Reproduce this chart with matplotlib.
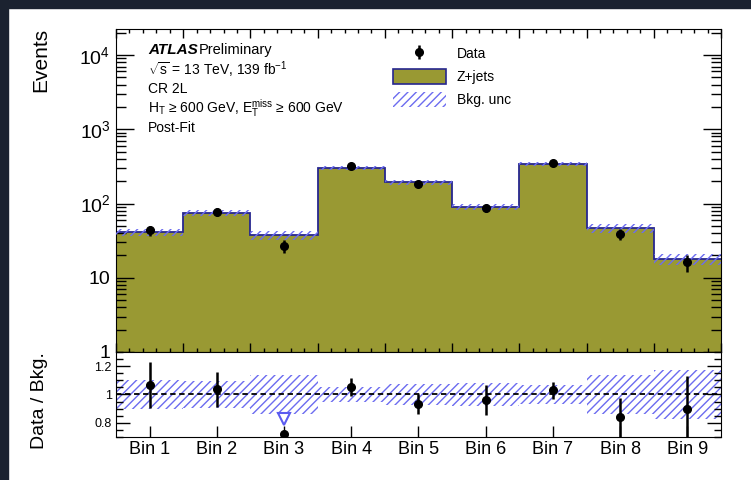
import matplotlib
matplotlib.use("Agg")
import numpy as np
import matplotlib.pyplot as plt
from matplotlib.patches import Patch, Rectangle
from matplotlib.ticker import FixedLocator, FixedFormatter, MultipleLocator, LogLocator, NullFormatter

plt.rcParams['font.family'] = ['Liberation Sans', 'DejaVu Sans']
plt.rcParams['mathtext.fontset'] = 'custom'
plt.rcParams['mathtext.rm'] = 'Liberation Sans'
plt.rcParams['mathtext.it'] = 'Liberation Sans:italic'
plt.rcParams['mathtext.bf'] = 'Liberation Sans:bold'
plt.rcParams['hatch.linewidth'] = 1.0

# ---- data ----
bins = ["Bin 1", "Bin 2", "Bin 3", "Bin 4", "Bin 5", "Bin 6", "Bin 7", "Bin 8", "Bin 9"]
zjets = [40.8, 74.8, 37.3, 303.0, 194.0, 90.0, 340.0, 46.9, 17.9]
data = [43.5, 77.5, 27.0, 319.0, 181.0, 86.5, 350.0, 39.3, 16.1]
data_err = [6.7, 9.2, 5.2, 19.0, 14.0, 9.6, 20.0, 6.6, 4.2]
bkg_rel_unc = [0.10, 0.095, 0.135, 0.053, 0.077, 0.08, 0.07, 0.135, 0.17]

OLIVE = '#999933'
NAVY = '#26268f'
HATCH = '#6c6cf0'
TRI = '#5b5bf0'

zj = np.array(zjets)
dt = np.array(data)
de = np.array(data_err)
unc = np.array(bkg_rel_unc)
edges = np.arange(len(bins) + 1)
centers = edges[:-1] + 0.5

fig = plt.figure(figsize=(7.51, 4.80), dpi=100)
ax = fig.add_axes([116/751, 1-352/480, 605/751, 323/480])
rax = fig.add_axes([116/751, 1-437/480, 605/751, 85/480])

# ---- main panel ----
ax.stairs(zj, edges, baseline=1e-2, fill=True, facecolor=OLIVE, edgecolor='none', zorder=1)
ax.stairs(zj, edges, baseline=None, color=NAVY, lw=1.3, zorder=2)
ax.stairs(zj*(1+unc), edges, baseline=zj*(1-unc), fill=True, facecolor='none',
          edgecolor=HATCH, hatch='////', lw=0, zorder=3)
eb = ax.errorbar(centers, dt, yerr=de, fmt='o', color='k', ms=5.5, elinewidth=1.8,
                 capsize=0, zorder=5)

ax.set_xlim(0, len(bins))
ax.set_yscale('log')
ax.set_ylim(1, 2.24e4)
ax.yaxis.set_major_locator(FixedLocator([1, 10, 100, 1000, 10000]))
ax.yaxis.set_major_formatter(FixedFormatter(['1', '10', '$10^2$', '$10^3$', '$10^4$']))
ax.yaxis.set_minor_locator(LogLocator(base=10, subs=np.arange(2, 10)))
ax.yaxis.set_minor_formatter(NullFormatter())
ax.tick_params(axis='y', which='major', direction='in', length=13, width=1, right=True, labelsize=14, pad=4)
ax.tick_params(axis='y', which='minor', direction='in', length=7, width=1, right=True)
ax.xaxis.set_major_locator(MultipleLocator(1))
ax.xaxis.set_minor_locator(MultipleLocator(0.2))
ax.tick_params(axis='x', which='major', direction='in', length=6.5, width=1, top=True, labelbottom=False)
ax.tick_params(axis='x', which='minor', direction='in', length=3, width=1, top=True)
sec = ax.secondary_xaxis('bottom')
sec.set_xticks(centers)
sec.tick_params(direction='in', length=5, width=1, labelbottom=False)
sec.spines['bottom'].set_visible(False)

tx = 0.053
ax.text(tx, 0.935, 'ATLAS', weight='bold', style='italic', fontsize=11, transform=ax.transAxes, va='center')
ax.text(0.137, 0.935, 'Preliminary', fontsize=10.5, transform=ax.transAxes, va='center')
ax.text(tx, 0.873, r'$\sqrt{\mathrm{s}}$ = 13 TeV, 139 fb$^{\mathrm{-1}}$', fontsize=10, transform=ax.transAxes, va='center')
ax.text(tx, 0.814, 'CR 2L', fontsize=10, transform=ax.transAxes, va='center')
ax.text(tx, 0.755, r'H$_{\mathrm{T}}$ ≥ 600 GeV, E$_{\mathrm{T}}^{\mathrm{miss}}$ ≥ 600 GeV', fontsize=10,
        transform=ax.transAxes, va='center')
ax.text(tx, 0.695, 'Post-Fit', fontsize=10, transform=ax.transAxes, va='center')

handles = [eb, Patch(facecolor=OLIVE, edgecolor=NAVY, lw=1.2),
           Patch(facecolor='none', edgecolor=HATCH, hatch='////', lw=0)]
ax.legend(handles, ['Data', 'Z+jets', 'Bkg. unc'], loc='upper left', bbox_to_anchor=(0.458, 0.947),
          frameon=False, fontsize=10, handlelength=3.8, handleheight=1.27, handletextpad=0.8,
          labelspacing=0.57, borderpad=0, borderaxespad=0)

# ---- ratio panel ----
RMIN, RMAX = 0.7, 1.3
ratio = dt / zj
rerr = de / zj
inside = ratio > RMIN + 0.04
rax.stairs(1+unc, edges, baseline=1-unc, fill=True, facecolor='none', edgecolor=HATCH,
           hatch='////', lw=0, zorder=1)
rax.axhline(1.0, color='k', ls=(0, (3, 2)), lw=1.3, zorder=2)
rax.errorbar(centers[inside], ratio[inside], yerr=rerr[inside], fmt='o', color='k', ms=5.5,
             elinewidth=1.8, capsize=0, zorder=5)
rax.plot(centers[~inside], ratio[~inside], 'o', color='k', ms=5.5, zorder=5)
rax.plot(centers[~inside], np.full((~inside).sum(), 0.825), ls='none', marker='v', ms=9,
         mfc='white', mec=TRI, mew=1.5, zorder=6)

rax.set_xlim(0, len(bins))
rax.set_ylim(RMIN, RMAX)
rax.set_xticks(centers)
rax.set_xticklabels(bins)
rax.tick_params(axis='x', direction='in', length=8, width=1, top=False, labelsize=13, pad=3)
rax.yaxis.set_major_locator(FixedLocator([0.8, 1.0, 1.2]))
rax.yaxis.set_major_formatter(FixedFormatter(['0.8', '1', '1.2']))
rax.yaxis.set_minor_locator(MultipleLocator(0.05))
rax.tick_params(axis='y', which='major', direction='in', length=10, width=1, right=True, labelsize=9, pad=3)
rax.tick_params(axis='y', which='minor', direction='in', length=5, width=1, right=True)

fig.text(41/751, 1-28/480, 'Events', rotation=90, ha='center', va='top', fontsize=15)
fig.text(40/751, 1-401/480, 'Data / Bkg.', rotation=90, ha='center', va='center', fontsize=14)

# dark frame strips of the screenshot
fig.add_artist(Rectangle((0, 1-8/480), 1, 8/480, transform=fig.transFigure, color='#1b2230', zorder=10))
fig.add_artist(Rectangle((0, 0), 8/751, 1, transform=fig.transFigure, color='#1b2230', zorder=10))

fig.savefig('out.png', dpi=100)
